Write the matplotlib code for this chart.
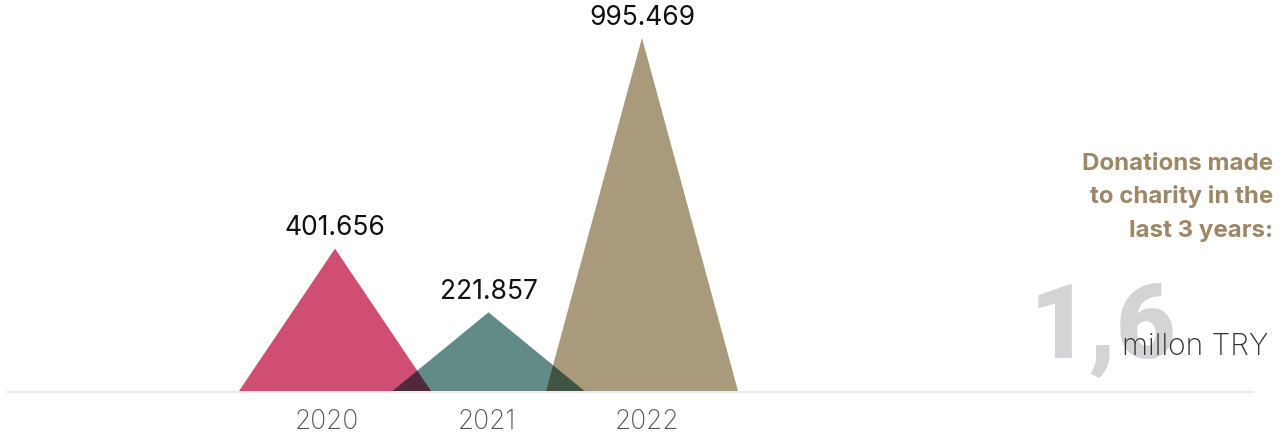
import matplotlib
matplotlib.use("Agg")
import matplotlib.pyplot as plt
from matplotlib.patches import Polygon
import numpy as np

plt.rcParams['font.family'] = ['Inter', 'DejaVu Sans']

# data (thousand TRY)
years = ["2020", "2021", "2022"]
values = [401.656, 221.857, 995.469]
labels = ["401.656", "221.857", "995.469"]
colors = ["#CF4E71", "#628A87", "#A99A7C"]

W, H = 1282, 437
fig = plt.figure(figsize=(W / 100, H / 100), dpi=100)
ax = fig.add_axes([0, 0, 1, 1])

# map data to pixels: centre spacing ~153.5px, baseline at y=391
step = 153.5
x0 = 335
base_px = 391
scale = 353 / 995.469  # px per unit
ax.set_xlim((0 - x0) / step, (W - x0) / step)
ax.set_ylim(-(H - base_px) / scale, base_px / scale)
ax.axis("off")

half = 96 / step  # half width of a triangle

# baseline
ax.plot([(6 - x0) / step, (1254 - x0) / step], [-4, -4], color="#EDEDED", lw=1.6, zorder=1,
        solid_capstyle="butt")

def rgb(c):
    return np.array(matplotlib.colors.to_rgb(c))

# year labels sit on a slightly wider spacing than the peaks
year_x = [(327 - x0) / step + i * 160 / step for i in range(len(years))]

for i, (v, c) in enumerate(zip(values, colors)):
    tri = Polygon([[i - half, 0], [i, v], [i + half, 0]], closed=True, facecolor=c,
                  edgecolor="none", zorder=2)
    ax.add_patch(tri)
    ax.text(i, v + 20, labels[i], ha="center", va="bottom", fontsize=19, color="#111111")
    ax.text(year_x[i], -(422 - base_px) / scale, years[i], ha="center", va="center",
            fontsize=19, color="#555555", fontweight="light")

# overlap regions, multiply blended
for i in range(len(values) - 1):
    v1, v2 = values[i], values[i + 1]
    s1 = -v1 / half          # slope of right edge of left triangle
    s2 = v2 / half           # slope of left edge of right triangle
    xi = (v1 - s1 * i + s2 * (i + 1 - half)) / (s2 - s1)
    yi = s2 * (xi - (i + 1 - half))
    mix = rgb(colors[i]) * rgb(colors[i + 1])
    ax.add_patch(Polygon([[i + 1 - half, 0], [xi, yi], [i + half, 0]], closed=True,
                         facecolor=mix, edgecolor="none", zorder=3))

# right-hand text
def fx(px):
    return px / W

def fy(py):
    return 1 - py / H

heading = ["Donations made", "to charity in the", "last 3 years:"]
for k, line in enumerate(heading):
    fig.text(fx(1273), fy(170 + k * 33.5), line, ha="right", va="baseline", fontsize=17.3,
             fontweight="bold", color="#9C8866")

fig.text(fx(1030), fy(357), "1,6", ha="left", va="baseline", fontsize=74,
         fontweight="black", color="#D4D4D6", family=["Roboto", "DejaVu Sans"])
fig.text(fx(1268), fy(355), "millon TRY", ha="right", va="baseline", fontsize=21.5,
         fontweight="light", color="#333333")

fig.savefig("out.png", dpi=100)
